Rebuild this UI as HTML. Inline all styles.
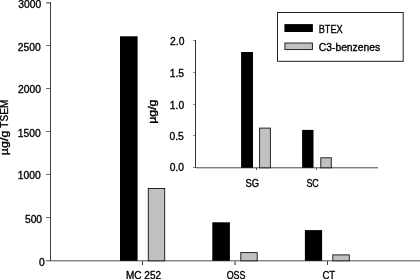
<!DOCTYPE html>
<html>
<head>
<meta charset="utf-8">
<style>
html,body{margin:0;padding:0;background:#fff;width:420px;height:279px;overflow:hidden;}
svg{display:block;will-change:transform;}
text{font-family:"Liberation Sans",sans-serif;font-size:10px;fill:#000;stroke:#000;stroke-width:0.34px;}
.n text{font-size:10.3px;}
.c{shape-rendering:crispEdges;}
</style>
</head>
<body>
<svg width="420" height="279" viewBox="0 0 420 279">
<rect x="0" y="0" width="420" height="279" fill="#fff"/>
<!-- main axes (crisp pixel rows) -->
<g class="c">
  <rect x="46" y="260" width="374" height="1" fill="#858585"/>
  <rect x="46" y="261" width="374" height="1" fill="#c8c8c8"/>
  <rect x="50" y="2" width="1" height="259" fill="#404040"/>
  <rect x="46" y="2" width="4" height="1" fill="#8a8a8a"/>
  <rect x="46" y="3" width="4" height="1" fill="#b0b0b0"/>
  <rect x="46" y="45" width="4" height="1" fill="#707070"/>
  <rect x="46" y="88" width="4" height="1" fill="#707070"/>
  <rect x="46" y="131" width="4" height="1" fill="#707070"/>
  <rect x="46" y="174" width="4" height="1" fill="#707070"/>
  <rect x="46" y="217" width="4" height="1" fill="#707070"/>
  <rect x="142" y="261" width="1" height="4" fill="#404040"/>
  <rect x="234" y="261" width="2" height="4" fill="#909090"/>
  <rect x="327" y="261" width="1" height="4" fill="#404040"/>
</g>
<!-- main bars -->
<rect x="120" y="36.3" width="17.6" height="224.5" fill="#000"/>
<rect x="148.3" y="188.5" width="16.4" height="72.3" fill="#c0c0c0" stroke="#111" stroke-width="0.9"/>
<rect x="212.3" y="222.3" width="17.6" height="38.5" fill="#000"/>
<rect x="240.8" y="252.6" width="16.4" height="8.2" fill="#c0c0c0" stroke="#111" stroke-width="0.9"/>
<rect x="304.9" y="230.1" width="17.2" height="30.7" fill="#000"/>
<rect x="332.8" y="254.9" width="16.5" height="5.9" fill="#c0c0c0" stroke="#111" stroke-width="0.9"/>

<!-- main y labels -->
<g class="n" text-anchor="end">
  <text x="41.2" y="7.6">3000</text>
  <text x="40.7" y="50.6">2500</text>
  <text x="41" y="93.1">2000</text>
  <text x="40.7" y="136.9">1500</text>
  <text x="40.7" y="179.3">1000</text>
  <text x="42.1" y="222.9">500</text>
  <text x="44.8" y="265.7">0</text>
</g>
<text transform="translate(8.3,155.2) rotate(-90)" textLength="24.6" lengthAdjust="spacingAndGlyphs">µg/g</text>
<text transform="translate(8.3,127.7) rotate(-90)" textLength="28" lengthAdjust="spacingAndGlyphs">TSEM</text>
<!-- category labels -->
<text x="126" y="278.7" textLength="35" lengthAdjust="spacingAndGlyphs">MC 252</text>
<text x="226.7" y="278.8" textLength="18.8" lengthAdjust="spacingAndGlyphs">OSS</text>
<text x="322.4" y="278.9" textLength="12.8" lengthAdjust="spacingAndGlyphs">CT</text>
<!-- inset axes -->
<g class="c">
  <rect x="193" y="167" width="185" height="1" fill="#808080"/>
  <rect x="196" y="168" width="182" height="1" fill="#c8c8c8"/>
  <rect x="195" y="40" width="1" height="128" fill="#333"/>
  <rect x="193" y="40" width="2" height="1" fill="#909090"/>
  <rect x="193" y="72" width="2" height="1" fill="#909090"/>
  <rect x="193" y="104" width="2" height="1" fill="#909090"/>
  <rect x="193" y="135" width="2" height="1" fill="#909090"/>
  <rect x="256" y="168" width="1" height="2" fill="#555"/>
  <rect x="316" y="168" width="1" height="2" fill="#666"/>
</g>
<!-- inset bars -->
<rect x="241.1" y="52" width="11.9" height="115.8" fill="#000"/>
<rect x="259.6" y="128.1" width="10.8" height="39.7" fill="#c0c0c0" stroke="#111" stroke-width="0.9"/>
<rect x="302.1" y="129.9" width="11.4" height="37.9" fill="#000"/>
<rect x="320.8" y="157.8" width="10.5" height="10" fill="#c0c0c0" stroke="#111" stroke-width="0.9"/>

<g class="n" text-anchor="end">
  <text x="184.4" y="44.7">2.0</text>
  <text x="184.1" y="77">1.5</text>
  <text x="184.2" y="108.6">1.0</text>
  <text x="183.8" y="140.1">0.5</text>
  <text x="184.1" y="171.3">0.0</text>
</g>
<text transform="translate(156.2,123.8) rotate(-90)" textLength="24.2" lengthAdjust="spacingAndGlyphs">µg/g</text>
<text x="245.4" y="186.7" textLength="13.6" lengthAdjust="spacingAndGlyphs">SG</text>
<text x="306.4" y="187" textLength="12.4" lengthAdjust="spacingAndGlyphs">SC</text>
<!-- legend -->
<rect x="277.5" y="12.5" width="125.7" height="48.8" fill="#fff" stroke="#222" stroke-width="1"/>
<rect x="284.4" y="24.1" width="28.5" height="7.9" fill="#000"/>
<rect x="284.9" y="43" width="27.5" height="6.6" fill="#c0c0c0" stroke="#111" stroke-width="0.9"/>
<text x="318.8" y="32.9" textLength="23.8" lengthAdjust="spacingAndGlyphs">BTEX</text>
<text x="318.8" y="51" textLength="61.3" lengthAdjust="spacingAndGlyphs">C3-benzenes</text>
</svg>
</body>
</html>
